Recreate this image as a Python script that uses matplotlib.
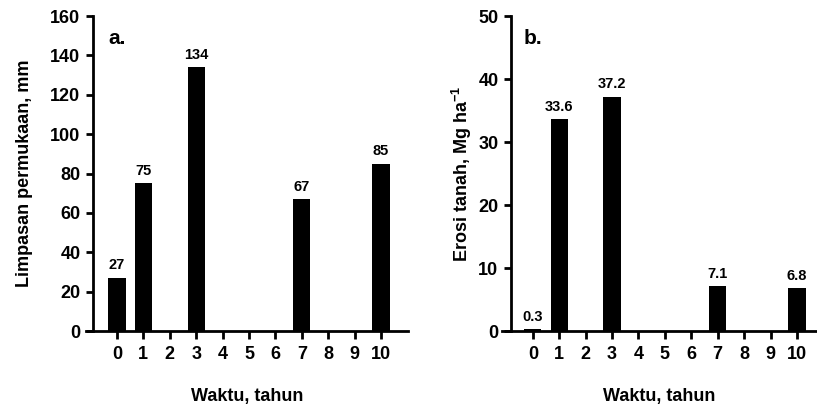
import matplotlib
matplotlib.use('Agg')
import matplotlib.pyplot as plt
import numpy as np

plt.rcParams['font.family'] = ['Liberation Sans', 'DejaVu Sans']
plt.rcParams['font.weight'] = 'bold'
plt.rcParams['mathtext.fontset'] = 'custom'
plt.rcParams['mathtext.rm'] = 'Liberation Sans:bold'
plt.rcParams['mathtext.bf'] = 'Liberation Sans:bold'

# data
years = [0, 1, 2, 3, 4, 5, 6, 7, 8, 9, 10]
runoff = [27, 75, 0, 134, 0, 0, 0, 67, 0, 0, 85]
runoff_labels = ['27', '75', '', '134', '', '', '', '67', '', '', '85']
erosion = [0.3, 33.6, 0, 37.2, 0, 0, 0, 7.1, 0, 0, 6.8]
erosion_labels = ['0.3', '33.6', '', '37.2', '', '', '', '7.1', '', '', '6.8']

fig = plt.figure(figsize=(8.17, 4.09), dpi=100)
ax1 = fig.add_axes([0.1053, 0.1907, 0.394, 0.770])
ax2 = fig.add_axes([0.6144, 0.1907, 0.3856, 0.770])


def draw(ax, vals, labels, ymax, ystep, xlim, yspine, ylabel, tag, lpad):
    ax.bar(years, vals, width=0.65, color='black')
    for x, v, t in zip(years, vals, labels):
        if t:
            ax.annotate(t, (x, v), xytext=(0, 4), textcoords='offset points',
                        ha='center', va='bottom', fontsize=10.5, fontweight='bold')
    ax.set_xlim(*xlim)
    ax.set_ylim(0, ymax)
    ax.set_xticks(years)
    ax.set_yticks(np.arange(0, ymax + 1, ystep))
    for s in ['top', 'right']:
        ax.spines[s].set_visible(False)
    ax.spines['left'].set_position(('data', yspine))
    ax.spines['left'].set_linewidth(2)
    ax.spines['bottom'].set_linewidth(2)
    ax.tick_params(axis='both', width=2, labelsize=13, color='black')
    ax.tick_params(axis='x', length=6, pad=5)
    ax.tick_params(axis='y', length=5, pad=4)
    ax.set_ylabel(ylabel, fontsize=13, fontweight='bold', labelpad=lpad)
    ax.set_xlabel('Waktu, tahun', fontsize=13, fontweight='bold', labelpad=18)
    ax.text(0.07, 0.93, tag, transform=ax.transAxes, fontsize=15,
            fontweight='bold', va='center', ha='left')
    for lab in ax.get_xticklabels() + ax.get_yticklabels():
        lab.set_fontweight('bold')


draw(ax1, runoff, runoff_labels, 160, 20, (-1.17, 11.02), -0.91,
     'Limpasan permukaan, mm', 'a.', 12)
draw(ax2, erosion, erosion_labels, 50, 10, (-1.17, 10.76), -0.83,
     'Erosi tanah, Mg ha$^{\\mathbf{-1}}$', 'b.', 3)

fig.savefig('out.png', dpi=100)
